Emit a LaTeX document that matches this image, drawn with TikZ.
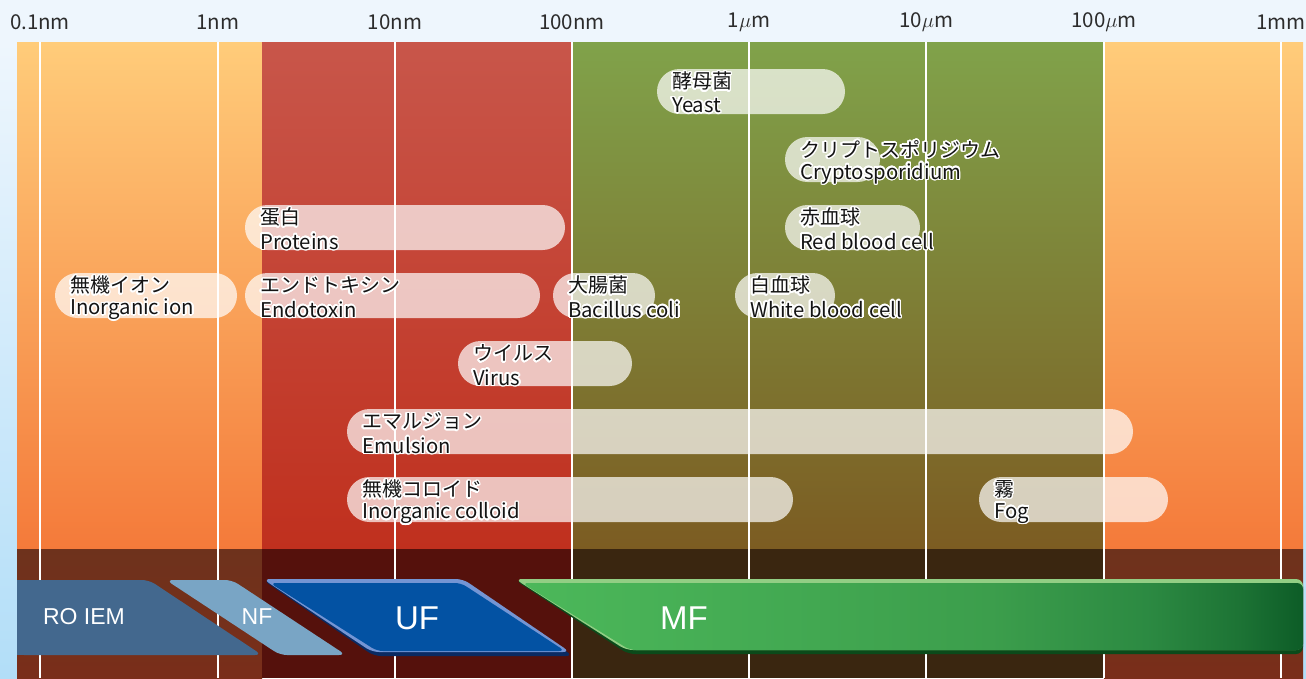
\documentclass[tikz,border=0pt]{standalone}
\usepackage{fontspec}
\setmainfont{Noto Sans CJK JP}
\newfontfamily\labfont{Liberation Sans}
\usepackage{contour}
\contourlength{1.4pt}
\contournumber{24}
\definecolor{bgtop}{HTML}{EEF6FD}
\definecolor{bgleft}{HTML}{B2DEF8}
\definecolor{orT}{HTML}{FFCC7A}
\definecolor{orB}{HTML}{F47A3A}
\definecolor{rdT}{HTML}{C8564A}
\definecolor{rdB}{HTML}{C0301E}
\definecolor{olT}{HTML}{80A24A}
\definecolor{olB}{HTML}{7C5C22}
\definecolor{orD}{HTML}{6E321C}
\definecolor{rdD}{HTML}{55110C}
\definecolor{olD}{HTML}{3A2610}
\definecolor{roC}{HTML}{43688E}
\definecolor{nfC}{HTML}{79A5C5}
\definecolor{ufC}{HTML}{0352A3}
\definecolor{ufL}{HTML}{7495D4}
\definecolor{ufD}{HTML}{0A2A62}
\definecolor{mfA}{HTML}{4CB85A}
\definecolor{mfB}{HTML}{3C9E4C}
\definecolor{mfC}{HTML}{2C8A42}
\definecolor{mfD}{HTML}{0D5C27}
\definecolor{mfL}{HTML}{92CE84}
\definecolor{mfK}{HTML}{0B4A1A}
\definecolor{txt}{HTML}{141414}
\pgfdeclarehorizontalshading{mfshade}{100bp}{color(0bp)=(mfA); color(25bp)=(mfA); color(55bp)=(mfB); color(65bp)=(mfC); color(71bp)=(mfC!50!mfD); color(75bp)=(mfD); color(100bp)=(mfD)}
\tikzset{
  grid/.style={white, line width=2.4pt},
  pillfill/.style={fill=white, fill opacity=0.7, rounded corners=22.5pt},
  jp/.style={anchor=west, inner sep=0pt, text=txt, font=\fontsize{20}{20}\selectfont},
  en/.style={anchor=west, inner sep=0pt, text=txt, font=\fontsize{20.3}{20.3}\selectfont},
  axis/.style={inner sep=0pt, text=txt!90, font=\fontsize{20.5}{20.5}\selectfont},
  bandlab/.style={inner sep=0pt, text=white, font=\labfont\fontsize{23}{23}\selectfont},
  bandbig/.style={inner sep=0pt, text=white, font=\labfont\fontsize{33}{33}\selectfont},
}
\newcommand\pill[7]{%
  \fill[pillfill] (#1,#3) rectangle (#2,#3+45);
  \node[jp] (#6) at (#1+15,#3+13) {\contour{white}{#4}};
  \node[en] (#7) at (#1+15,#3+37) {\contour{white}{#5}};
}
\begin{document}
\begin{tikzpicture}[x=1pt,y=-1pt]
\useasboundingbox (0,0) rectangle (1306,678);
% background
\fill[bgtop] (0,0) rectangle (1306,42);
\shade[top color=bgtop, bottom color=bgleft] (0,42) rectangle (17,678);
\shade[top color=bgtop, bottom color=bgleft] (1303,42) rectangle (1306,678);
% coloured zones
\shade[top color=orT, bottom color=orB] (17,42) rectangle (262,549);
\shade[top color=rdT, bottom color=rdB] (262,42) rectangle (572,549);
\shade[top color=olT, bottom color=olB] (572,42) rectangle (1104,549);
\shade[top color=orT, bottom color=orB] (1104,42) rectangle (1303,549);
\shade[top color=orD, bottom color=orD!92!red] (17,549) rectangle (262,678);
\fill[rdD] (262,549) rectangle (572,678);
\fill[olD] (572,549) rectangle (1104,678);
\shade[top color=orD, bottom color=orD!92!red] (1104,549) rectangle (1303,678);
% grid lines and axis labels
\foreach \x/\t [count=\i] in {40/0.1nm, 218/1nm, 395/10nm, 572/100nm, 749/1$\mu$m, 926/10$\mu$m, 1104/100$\mu$m, 1281/1mm}{
  \draw[grid] (\x,42) -- (\x,678);
  \node[axis] (ax\i) at (\x,22) {\t};
}
% pills
\pill{657}{845}{69}{酵母菌}{Yeast}{yj}{ye}
\pill{785}{880}{137}{クリプトスポリジウム}{Cryptosporidium}{cj}{ce}
\pill{785}{920}{205}{赤血球}{Red blood cell}{rj}{re}
\pill{245}{565}{205}{蛋白}{Proteins}{pj}{pe}
\pill{55}{237}{273}{無機イオン}{Inorganic ion}{ij}{ie}
\pill{245}{540}{273}{エンドトキシン}{Endotoxin}{ej}{ee}
\pill{553}{655}{273}{大腸菌}{Bacillus coli}{bj}{be}
\pill{735}{835}{273}{白血球}{White blood cell}{wj}{we}
\pill{458}{632}{341}{ウイルス}{Virus}{vj}{ve}
\pill{347}{1133}{409}{エマルジョン}{Emulsion}{mj}{me}
\pill{347}{793}{477}{無機コロイド}{Inorganic colloid}{kj}{ke}
\pill{979}{1168}{477}{霧}{Fog}{fj}{fe}
% filtration bands
\fill[roC, rounded corners=7pt] (17,580) -- (149,580) -- (262,655) -- (17,655) -- cycle;
\fill[roC] (17,580) rectangle (30,655);
\fill[nfC, rounded corners=7pt] (166,580) -- (232,580) -- (346,655) -- (280,655) -- cycle;
% UF
\fill[ufD, rounded corners=7pt] (263,580) -- (463,580) -- (573,656) -- (374,656) -- cycle;
\fill[ufL, rounded corners=7pt] (263,579) -- (463,579) -- (570,652) -- (372,652) -- cycle;
\fill[ufC, rounded corners=6pt] (270,583) -- (461,583) -- (565,651) -- (377,651) -- cycle;
% MF
\fill[mfK, rounded corners=7pt] (515,580) -- (1303,580) -- (1303,654) -- (628,654) -- cycle;
\fill[mfL, rounded corners=7pt] (515,579) -- (1303,579) -- (1303,650) -- (626,650) -- cycle;
\shade[shading=mfshade, rounded corners=6pt] (522,583) -- (1303,583) -- (1303,650) -- (630,650) -- cycle;
\node[bandlab] (ro) at (84,617) {RO IEM};
\node[bandlab] (nf) at (257,617) {NF};
\node[bandbig] (uf) at (417,618) {UF};
\node[bandbig] (mf) at (684,618) {MF};
\end{tikzpicture}
\end{document}
